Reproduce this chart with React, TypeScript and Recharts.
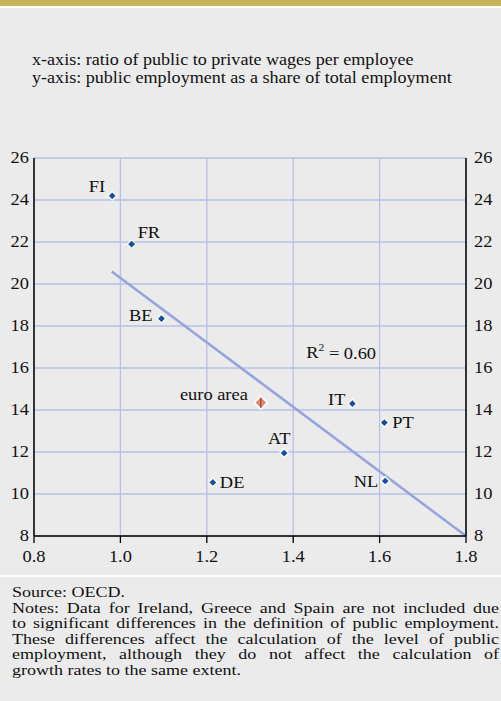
import React from 'react';
import { ScatterChart, Scatter, XAxis, YAxis, CartesianGrid, ReferenceLine, ReferenceDot } from 'recharts';

// ---- data ----
const countries = ['FI', 'FR', 'BE', 'DE', 'AT', 'IT', 'PT', 'NL'];
const wageRatio = [0.981, 1.026, 1.095, 1.214, 1.379, 1.537, 1.611, 1.613];
const publicShare = [24.2, 21.9, 18.35, 10.55, 11.95, 14.3, 13.4, 10.62];

const euroAreaName = ['euro area'];
const euroAreaRatio = [1.325];
const euroAreaShare = [14.35];

const trendX = [0.98, 1.8];
const trendY = [20.6, 8.0];
const rSquaredValue = '0.60';
const rSquaredPos = { x: 1.511, y: 16.7 };

const xTicks = [0.8, 1.0, 1.2, 1.4, 1.6, 1.8];
const yTicks = [8, 10, 12, 14, 16, 18, 20, 22, 24, 26];

const headerLines = [
  'x-axis: ratio of public to private wages per employee',
  'y-axis: public employment as a share of total employment',
];
const sourceLine = 'Source: OECD.';
const noteLines = [
  'Notes: Data for Ireland, Greece and Spain are not included due',
  'to significant differences in the definition of public employment.',
  'These differences affect the calculation of the level of public',
  'employment, although they do not affect the calculation of',
  'growth rates to the same extent.',
];

// ---- styling ----
const FONT = '"Liberation Serif", "Times New Roman", serif';
const BG = '#ebebeb';
const GRID = '#b7c0e6';
const TREND = '#97a3dc';
const BLUE = '#1b4f9e';
const SX = 1.15; // horizontal stretch of the original typography

// label placement (anchor, dx, dy) relative to the marker
const labelPlacement: Record<string, { anchor: 'start' | 'middle' | 'end'; dx: number; dy: number }> = {
  FI: { anchor: 'end', dx: -7, dy: -9 },
  FR: { anchor: 'start', dx: 6, dy: -11 },
  BE: { anchor: 'end', dx: -9, dy: -3 },
  DE: { anchor: 'start', dx: 7, dy: 0 },
  AT: { anchor: 'middle', dx: -5, dy: -14 },
  IT: { anchor: 'end', dx: -7, dy: -4 },
  PT: { anchor: 'start', dx: 8, dy: 0 },
  NL: { anchor: 'end', dx: -7, dy: 1 },
  'euro area': { anchor: 'end', dx: -13, dy: -8 },
};

const countryData = countries.map((name, i) => ({ name, x: wageRatio[i], y: publicShare[i] }));
const euroData = euroAreaName.map((name, i) => ({ name, x: euroAreaRatio[i], y: euroAreaShare[i] }));

const SText = ({ x, y, anchor, children }: any) => (
  <text
    transform={`translate(${x} ${y}) scale(${SX} 1)`}
    x={0}
    y={0}
    textAnchor={anchor}
    dominantBaseline="central"
    fontFamily={FONT}
    fontSize={16}
    fill="#111"
  >
    {children}
  </text>
);

const PointLabel = ({ cx, cy, name }: any) => {
  const p = labelPlacement[name] || { anchor: 'start', dx: 6, dy: 0 };
  return (
    <SText x={cx + p.dx} y={cy + p.dy} anchor={p.anchor}>
      {name}
    </SText>
  );
};

const BlueDiamond = (props: any) => {
  const { cx, cy, payload } = props;
  const s = 4.3;
  return (
    <g>
      <polygon
        points={`${cx},${cy - s} ${cx + s},${cy} ${cx},${cy + s} ${cx - s},${cy}`}
        fill={BLUE}
        stroke="#ffffff"
        strokeWidth={1.3}
      />
      <PointLabel cx={cx} cy={cy} name={payload.name} />
    </g>
  );
};

const EuroDiamond = (props: any) => {
  const { cx, cy, payload } = props;
  const s = 6.5;
  return (
    <g>
      <polygon
        points={`${cx},${cy - s} ${cx + s},${cy} ${cx},${cy + s} ${cx - s},${cy}`}
        fill="#dc8a72"
        stroke="#ffffff"
        strokeWidth={1.6}
      />
      <line x1={cx} y1={cy - s + 1.5} x2={cx} y2={cy + s - 1.5} stroke="#b4413a" strokeWidth={1.4} />
      <PointLabel cx={cx} cy={cy} name={payload.name} />
    </g>
  );
};

const makeTick = (anchor: 'start' | 'middle' | 'end', fmt?: (v: number) => string) => (props: any) => {
  const { x, y, payload } = props;
  const v = fmt ? fmt(payload.value) : String(payload.value);
  return (
    <SText x={x} y={y} anchor={anchor}>
      {v}
    </SText>
  );
};

const XTick = makeTick('middle', (v) => v.toFixed(1));
const LeftTick = makeTick('end');
const RightTick = makeTick('start');

const RLabel = (props: any) => {
  const { viewBox } = props;
  const x = viewBox.x;
  const y = viewBox.y;
  return (
    <text
      transform={`translate(${x} ${y}) scale(${SX} 1)`}
      textAnchor="middle"
      dominantBaseline="central"
      fontFamily={FONT}
      fontSize={16}
      fill="#111"
    >
      R<tspan fontSize={10} dy={-6}>2</tspan>
      <tspan dy={6}>{' = ' + rSquaredValue}</tspan>
    </text>
  );
};

export default function App() {
  return (
    <div
      style={{
        position: 'absolute',
        left: 0,
        top: 0,
        width: 501,
        height: 701,
        background: BG,
        fontFamily: FONT,
        overflow: 'hidden',
        color: '#111',
      }}
    >
      <div style={{ position: 'absolute', left: 0, top: 0, width: 501, height: 6, background: '#c8b458' }} />
      <div style={{ position: 'absolute', left: 0, top: 6, width: 501, height: 2, background: '#ffffff' }} />

      <div
        style={{
          position: 'absolute',
          left: 32,
          top: 51,
          fontSize: 16,
          lineHeight: '18px',
          whiteSpace: 'nowrap',
          transform: `scaleX(1.13)`,
          transformOrigin: '0 0',
        }}
      >
        {headerLines.map((l) => (
          <div key={l}>{l}</div>
        ))}
      </div>

      <div style={{ position: 'absolute', left: 0, top: 0 }}>
        <ScatterChart width={501} height={575} margin={{ top: 158, right: 0, bottom: 9, left: 0 }}>
          <CartesianGrid yAxisId="left" stroke={GRID} strokeWidth={1.3} />
          <XAxis
            type="number"
            dataKey="x"
            domain={[0.8, 1.8]}
            ticks={xTicks}
            height={30}
            tick={XTick}
            tickSize={7}
            tickMargin={14}
            axisLine={{ stroke: '#000', strokeWidth: 1.5 }}
            tickLine={{ stroke: '#000', strokeWidth: 1.3 }}
            allowDataOverflow
          />
          <YAxis
            yAxisId="left"
            type="number"
            dataKey="y"
            domain={[8, 26]}
            ticks={yTicks}
            width={34}
            tick={LeftTick}
            tickSize={0}
            tickMargin={5}
            axisLine={{ stroke: '#000', strokeWidth: 1.5 }}
            tickLine={false}
            allowDataOverflow
          />
          <YAxis
            yAxisId="right"
            orientation="right"
            type="number"
            dataKey="y"
            domain={[8, 26]}
            ticks={yTicks}
            width={35}
            tick={RightTick}
            tickSize={0}
            tickMargin={8}
            axisLine={{ stroke: '#000', strokeWidth: 1.5 }}
            tickLine={false}
            allowDataOverflow
          />
          <ReferenceLine
            yAxisId="left"
            segment={[
              { x: trendX[0], y: trendY[0] },
              { x: trendX[1], y: trendY[1] },
            ]}
            stroke={TREND}
            strokeWidth={2.5}
            ifOverflow="visible"
          />
          <ReferenceDot
            yAxisId="left"
            x={rSquaredPos.x}
            y={rSquaredPos.y}
            r={0}
            fill="none"
            stroke="none"
            label={<RLabel />}
          />
          <Scatter yAxisId="left" data={countryData} shape={BlueDiamond} isAnimationActive={false} />
          <Scatter yAxisId="left" data={euroData} shape={EuroDiamond} isAnimationActive={false} />
        </ScatterChart>
      </div>

      <div style={{ position: 'absolute', left: 0, top: 575, width: 501, height: 2, background: '#ffffff' }} />

      <div
        style={{
          position: 'absolute',
          left: 12,
          top: 585,
          width: 487 / 1.2,
          fontSize: 15,
          lineHeight: '15.6px',
          transform: 'scaleX(1.2)',
          transformOrigin: '0 0',
        }}
      >
        <div>{sourceLine}</div>
        {noteLines.map((l, i) => (
          <div
            key={i}
            style={{
              textAlign: 'justify',
              textAlignLast: i < noteLines.length - 1 ? 'justify' : 'left',
              whiteSpace: 'nowrap',
            }}
          >
            {l}
          </div>
        ))}
      </div>
    </div>
  );
}
